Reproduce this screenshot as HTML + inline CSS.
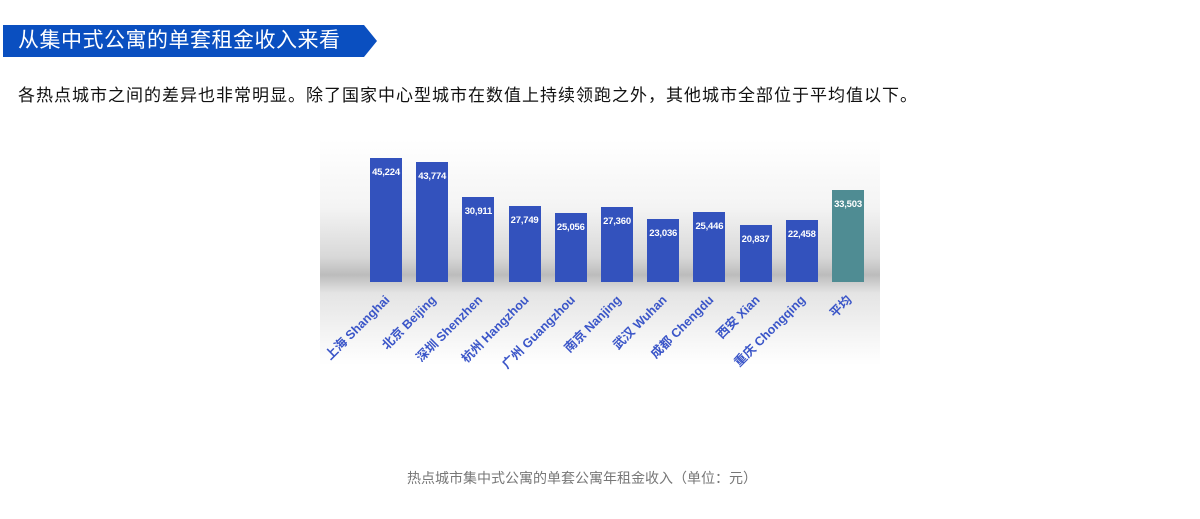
<!DOCTYPE html>
<html><head><meta charset="utf-8"><style>
body{margin:0;width:1200px;height:519px;background:#fff;position:relative;font-family:"Liberation Sans","Noto Sans CJK SC",sans-serif;overflow:hidden}
.banner{position:absolute;left:3px;top:25px;width:361px;height:32px;background:#0a4fc0;color:#fff;font-size:21px;line-height:32px;padding-left:15px;box-sizing:border-box;letter-spacing:0.5px}
.arrow{position:absolute;left:364px;top:25px;width:0;height:0;border-top:16px solid transparent;border-bottom:16px solid transparent;border-left:13px solid #0a4fc0}
.p{position:absolute;left:18px;top:81px;font-size:17px;color:#111;letter-spacing:1px}
.chart{position:absolute;left:320px;top:140px;width:560px;height:225px;background:linear-gradient(to bottom,#fff 0%,#f4f4f4 30%,#d8d8d8 52%,#bcbcbc 60%,#e4e4e4 68%,#f3f3f3 85%,#fff 100%)}
.bar{position:absolute;width:32px;background:#3352bd;color:#fff;font-size:9.5px;font-weight:bold;text-align:center;padding-top:9px;box-sizing:border-box;letter-spacing:-0.2px}
.lbl{position:absolute;font-size:12.5px;font-weight:bold;color:#3a55c8;white-space:nowrap;transform-origin:right top;transform:rotate(-45deg)}
.cap{position:absolute;left:0;width:1164px;text-align:center;top:468px;font-size:14px;color:#777}
</style></head><body>
<div class="banner">从集中式公寓的单套租金收入来看</div><div class="arrow"></div>
<div class="p">各热点城市之间的差异也非常明显。除了国家中心型城市在数值上持续领跑之外，其他城市全部位于平均值以下。</div>
<div class="chart"></div>
<div id="bars"></div>
<div class="cap">热点城市集中式公寓的单套公寓年租金收入（单位：元）</div>
<script>
var d=[["上海 Shanghai",45224],["北京 Beijing",43774],["深圳 Shenzhen",30911],["杭州 Hangzhou",27749],["广州 Guangzhou",25056],["南京 Nanjing",27360],["武汉 Wuhan",23036],["成都 Chengdu",25446],["西安 Xian",20837],["重庆 Chongqing",22458],["平均",33503]];
var h="";
d.forEach(function(e,i){
var cx=386+i*46.2;var ht=e[1]*124/45224;
h+='<div class="bar" style="left:'+(cx-16)+'px;top:'+(282-ht)+'px;height:'+ht+'px;'+(i==10?'background:#4f8c93':'')+'">'+e[1].toLocaleString("en-US")+'</div>';
h+='<div class="lbl" style="right:'+(1200-cx+6)+'px;top:290px">'+e[0]+'</div>';
});
document.getElementById("bars").innerHTML=h;
</script>
</body></html>
